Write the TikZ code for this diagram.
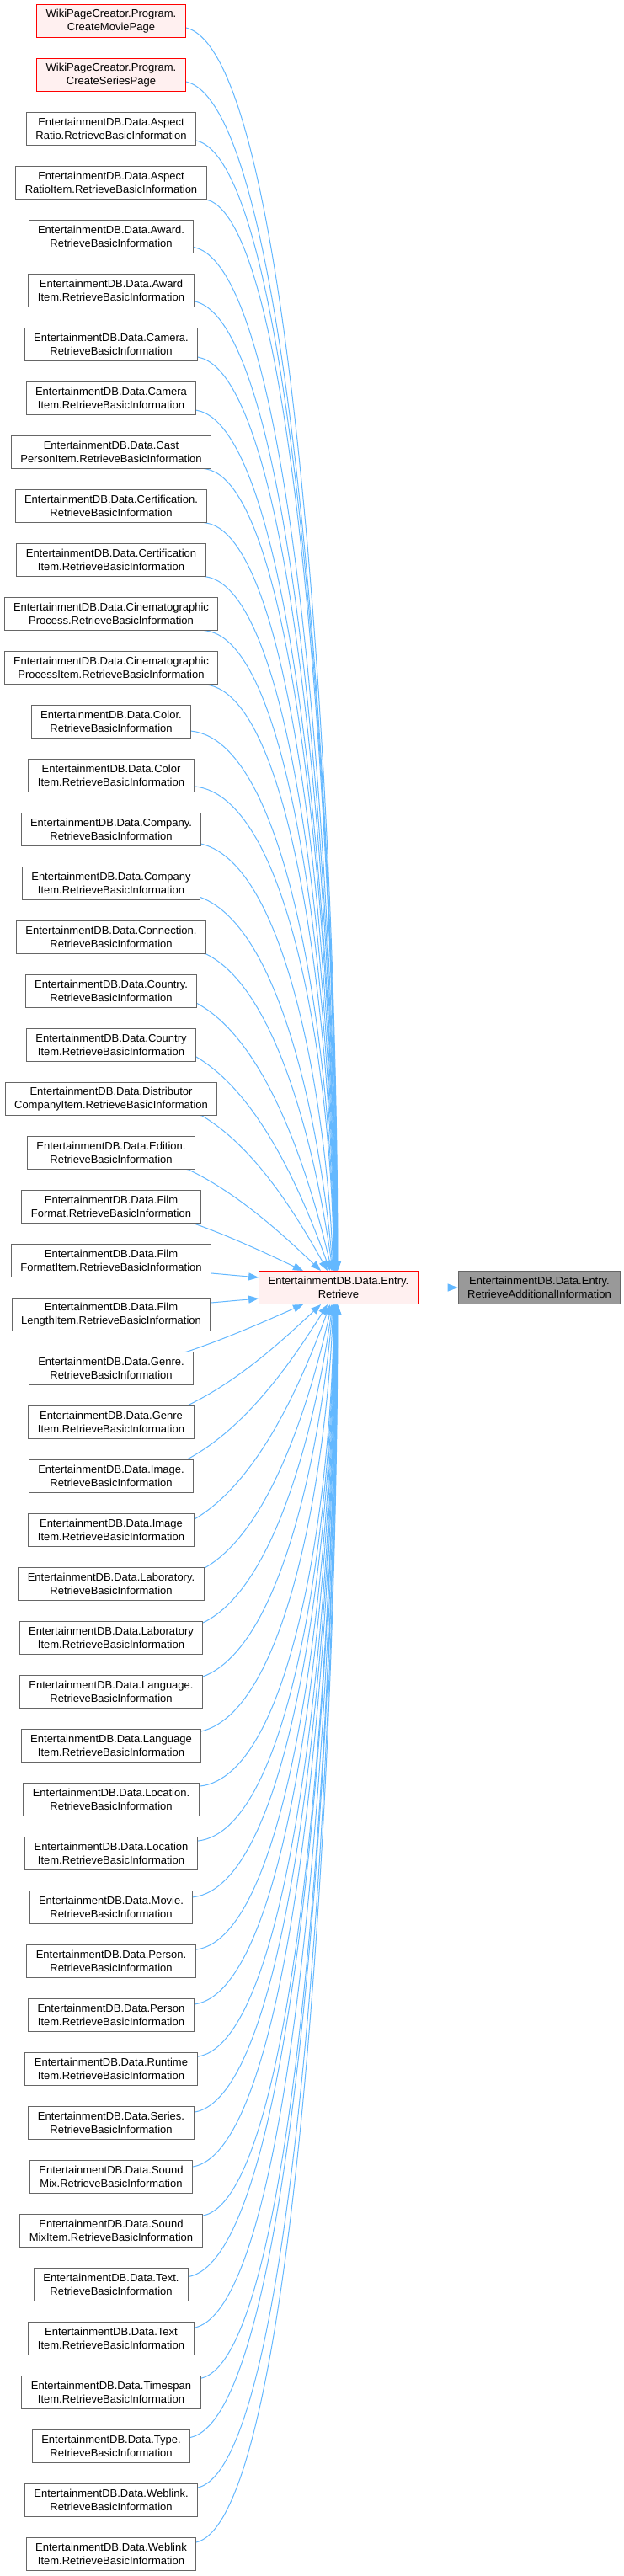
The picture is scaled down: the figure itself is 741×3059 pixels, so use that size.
\documentclass[tikz,border=0pt]{standalone}
\usepackage{fontspec}
\setmainfont{Liberation Sans}
\usetikzlibrary{arrows.meta,calc}
\pgfdeclarelayer{paper}
\pgfdeclarelayer{background}
\pgfsetlayers{paper,background,main}
\definecolor{edgeblue}{HTML}{63B8FF}
\definecolor{boxgray}{HTML}{666666}
\definecolor{redfill}{HTML}{FFF0F0}
\definecolor{addfill}{HTML}{999999}
\begin{document}
\begin{tikzpicture}[x=1pt,y=-1pt,
  fbox/.style={draw=boxgray, fill=white, line width=1pt, minimum height=39pt,
    inner xsep=11pt, inner ysep=0pt, align=center,
    font=\fontsize{13}{15.7}\selectfont},
  redbox/.style={fbox, draw=red, fill=redfill},
  graybox/.style={fbox, fill=addfill},
  edge/.style={draw=edgeblue, line width=1pt, -{Triangle[length=12pt,width=9pt]}}]
\begin{pgfonlayer}{paper}
\fill[white] (0,0) rectangle (741,3059);
\end{pgfonlayer}
\useasboundingbox (0,0) rectangle (741,3059);

\node[redbox] (b1) at (132,25) {WikiPageCreator.Program.\\CreateMoviePage};
\node[redbox] (b2) at (132,89) {WikiPageCreator.Program.\\CreateSeriesPage};
\foreach \i/\txt in {
 3/{EntertainmentDB.Data.Aspect\\Ratio.RetrieveBasicInformation},
 4/{EntertainmentDB.Data.Aspect\\RatioItem.RetrieveBasicInformation},
 5/{EntertainmentDB.Data.Award.\\RetrieveBasicInformation},
 6/{EntertainmentDB.Data.Award\\Item.RetrieveBasicInformation},
 7/{EntertainmentDB.Data.Camera.\\RetrieveBasicInformation},
 8/{EntertainmentDB.Data.Camera\\Item.RetrieveBasicInformation},
 9/{EntertainmentDB.Data.Cast\\PersonItem.RetrieveBasicInformation},
 10/{EntertainmentDB.Data.Certification.\\RetrieveBasicInformation},
 11/{EntertainmentDB.Data.Certification\\Item.RetrieveBasicInformation},
 12/{EntertainmentDB.Data.Cinematographic\\Process.RetrieveBasicInformation},
 13/{EntertainmentDB.Data.Cinematographic\\ProcessItem.RetrieveBasicInformation},
 14/{EntertainmentDB.Data.Color.\\RetrieveBasicInformation},
 15/{EntertainmentDB.Data.Color\\Item.RetrieveBasicInformation},
 16/{EntertainmentDB.Data.Company.\\RetrieveBasicInformation},
 17/{EntertainmentDB.Data.Company\\Item.RetrieveBasicInformation},
 18/{EntertainmentDB.Data.Connection.\\RetrieveBasicInformation},
 19/{EntertainmentDB.Data.Country.\\RetrieveBasicInformation},
 20/{EntertainmentDB.Data.Country\\Item.RetrieveBasicInformation},
 21/{EntertainmentDB.Data.Distributor\\CompanyItem.RetrieveBasicInformation},
 22/{EntertainmentDB.Data.Edition.\\RetrieveBasicInformation},
 23/{EntertainmentDB.Data.Film\\Format.RetrieveBasicInformation},
 24/{EntertainmentDB.Data.Film\\FormatItem.RetrieveBasicInformation},
 25/{EntertainmentDB.Data.Film\\LengthItem.RetrieveBasicInformation},
 26/{EntertainmentDB.Data.Genre.\\RetrieveBasicInformation},
 27/{EntertainmentDB.Data.Genre\\Item.RetrieveBasicInformation},
 28/{EntertainmentDB.Data.Image.\\RetrieveBasicInformation},
 29/{EntertainmentDB.Data.Image\\Item.RetrieveBasicInformation},
 30/{EntertainmentDB.Data.Laboratory.\\RetrieveBasicInformation},
 31/{EntertainmentDB.Data.Laboratory\\Item.RetrieveBasicInformation},
 32/{EntertainmentDB.Data.Language.\\RetrieveBasicInformation},
 33/{EntertainmentDB.Data.Language\\Item.RetrieveBasicInformation},
 34/{EntertainmentDB.Data.Location.\\RetrieveBasicInformation},
 35/{EntertainmentDB.Data.Location\\Item.RetrieveBasicInformation},
 36/{EntertainmentDB.Data.Movie.\\RetrieveBasicInformation},
 37/{EntertainmentDB.Data.Person.\\RetrieveBasicInformation},
 38/{EntertainmentDB.Data.Person\\Item.RetrieveBasicInformation},
 39/{EntertainmentDB.Data.Runtime\\Item.RetrieveBasicInformation},
 40/{EntertainmentDB.Data.Series.\\RetrieveBasicInformation},
 41/{EntertainmentDB.Data.Sound\\Mix.RetrieveBasicInformation},
 42/{EntertainmentDB.Data.Sound\\MixItem.RetrieveBasicInformation},
 43/{EntertainmentDB.Data.Text.\\RetrieveBasicInformation},
 44/{EntertainmentDB.Data.Text\\Item.RetrieveBasicInformation},
 45/{EntertainmentDB.Data.Timespan\\Item.RetrieveBasicInformation},
 46/{EntertainmentDB.Data.Type.\\RetrieveBasicInformation},
 47/{EntertainmentDB.Data.Weblink.\\RetrieveBasicInformation},
 48/{EntertainmentDB.Data.Weblink\\Item.RetrieveBasicInformation}}
 {\node[fbox] (b\i) at (132,{25+64*(\i-1)}) {\txt};}

\node[redbox] (r) at (402,1529) {EntertainmentDB.Data.Entry.\\Retrieve};
\node[graybox] (a) at (640.5,1529) {EntertainmentDB.Data.Entry.\\RetrieveAdditionalInformation};

\begin{pgfonlayer}{background}
\foreach \i in {1,...,48} {
 \ifnum\i=24\relax\else\ifnum\i=25\relax\else
  \pgfpointanchor{b\i}{east}\pgfgetlastxy{\xr}{\yr}
  \pgfmathsetmacro\XR{\xr}
  \pgfmathsetmacro\YC{25+64*(\i-1)}
  \pgfmathsetmacro\SG{\i<24 ? 1 : -1}
  \pgfmathsetmacro\DD{\i<24 ? 24-\i : \i-25}
  \pgfmathsetmacro\TY{\i<24 ? 1509 : 1549}
  \pgfmathsetmacro\EX{\DD<=3 ? min(\XR-8,240) : min(\XR,245)}
  \pgfmathsetmacro\KK{\DD<=3 ? 20 : (\XR>245 ? 20 : max(8,min(20,8+0.5*(\XR-221))))}
  \pgfmathsetmacro\EY{\YC+\SG*\KK}
  \pgfmathsetmacro\XT{\DD==1 ? 360 : (\DD==2 ? 381 : (\DD==3 ? 389 : (\DD==4 ? 392 : (\DD==5 ? 394 : 395+(\DD-6)*0.35))))}
  \pgfmathsetmacro\FF{min(1,(\DD-1)/8)}
  \pgfmathsetmacro\DX{\XT-\EX}
  \pgfmathsetmacro\DY{\SG*(\TY-\EY)}
  \pgfmathsetmacro\AX{\EX+(0.33+0.39*\FF)*\DX}
  \pgfmathsetmacro\AY{\EY+\SG*(0.27-0.25*\FF)*\DY}
  \pgfmathsetmacro\BX{\XT-0.33*(1-\FF)*\DX}
  \pgfmathsetmacro\BY{\TY-\SG*(0.36-0.01*\FF)*\DY}
  \coordinate (s\i) at (\EX,\EY);
  \coordinate (t\i) at (\XT,\TY);
  \draw[edge] (b\i.center) -- (s\i) .. controls (\AX,\AY) and (\BX,\BY) .. (t\i);
 \fi\fi
}
\draw[edge] (b24.center) -- ($(b24.east)+(0,15)$) -- ($(r.west)+(0,-12)$);
\draw[edge] (b25.center) -- ($(b25.east)+(0,-14)$) -- ($(r.west)+(0,13)$);
\end{pgfonlayer}
\draw[edge] (r.east) -- (a.west);
\end{tikzpicture}
\end{document}
